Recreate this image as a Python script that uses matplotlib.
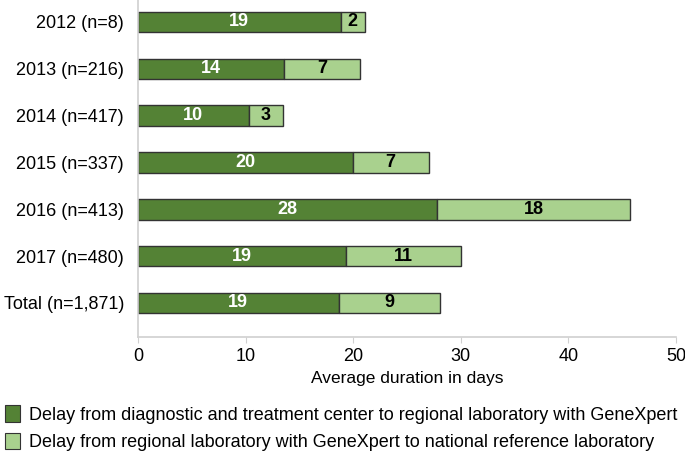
import matplotlib
matplotlib.use("Agg")
import matplotlib.pyplot as plt
from matplotlib.patches import Patch

plt.rcParams['font.family'] = ['Liberation Sans', 'DejaVu Sans']

# data (average days)
categories = ["2012 (n=8)", "2013 (n=216)", "2014 (n=417)", "2015 (n=337)",
              "2016 (n=413)", "2017 (n=480)", "Total (n=1,871)"]
to_regional = [18.84, 13.54, 10.29, 19.95, 27.82, 19.37, 18.65]
to_national = [2.23, 7.09, 3.16, 7.06, 17.92, 10.63, 9.45]

dark = '#548235'
light = '#A9D18E'
legend_labels = [
    "Delay from diagnostic and treatment center to regional laboratory with GeneXpert",
    "Delay from regional laboratory with GeneXpert to national reference laboratory",
]

W, H = 685, 455
fig = plt.figure(figsize=(W / 100, H / 100), dpi=100)
ax = fig.add_axes([138 / W, 1 - 337 / H, (676 - 138) / W, 337 / H])

y = list(range(len(categories)))
ax.barh(y, to_regional, height=0.44, color=dark, edgecolor='#333333', linewidth=1)
ax.barh(y, to_national, left=to_regional, height=0.44, color=light,
        edgecolor='#333333', linewidth=1)

for i in y:
    ax.text(to_regional[i] / 2, i, f"{round(to_regional[i])}", ha='center', va='center',
            color='white', fontsize=13, fontweight='bold')
    ax.text(to_regional[i] + to_national[i] / 2, i, f"{round(to_national[i])}",
            ha='center', va='center', color='black', fontsize=13, fontweight='bold')

ax.set_xlim(0, 50)
ax.set_ylim(6.73, -0.47)
ax.set_yticks(y)
ax.set_yticklabels(categories, fontsize=13)
ax.set_xticks([0, 10, 20, 30, 40, 50])
ax.tick_params(axis='x', labelsize=13, length=4, color='#d0d0d0', pad=4)
ax.tick_params(axis='y', length=0, pad=10)
for s in ['top', 'right']:
    ax.spines[s].set_visible(False)
for s in ['left', 'bottom']:
    ax.spines[s].set_color('#d0d0d0')
    ax.spines[s].set_linewidth(1.2)
ax.set_xlabel("Average duration in days", fontsize=12.5, labelpad=4)

handles = [Patch(facecolor=dark, edgecolor='#333333', linewidth=0.8),
           Patch(facecolor=light, edgecolor='#333333', linewidth=0.8)]
fig.legend(handles, legend_labels, loc='upper left', bbox_to_anchor=(0.0, 1 - 400 / H),
           frameon=False, fontsize=13, handlelength=0.8, handleheight=1.0,
           handletextpad=0.5, labelspacing=0.5, borderaxespad=0.0, borderpad=0.3)

fig.savefig("out.png", dpi=100)
